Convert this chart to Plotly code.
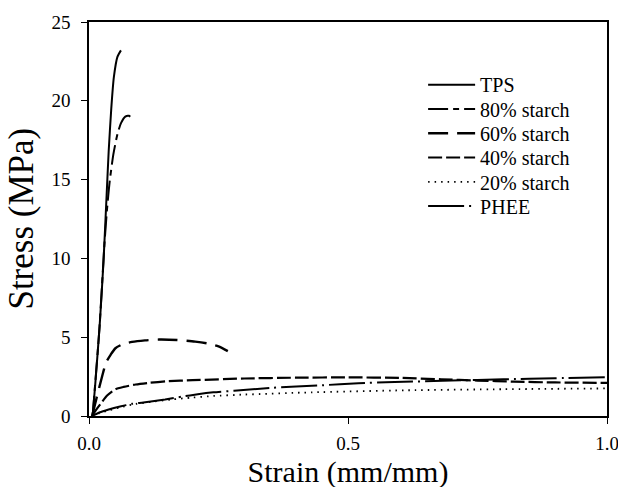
import plotly.graph_objects as go

# ---- data ----
tps_x = [0.007, 0.012, 0.0205, 0.028, 0.034, 0.038, 0.043, 0.048, 0.055, 0.0617]
tps_y = [0.0, 2.0, 5.7, 9.8, 14.0, 16.8, 19.5, 21.5, 22.8, 23.2]

s80_x = [0.007, 0.02, 0.03, 0.035, 0.04, 0.047, 0.055, 0.062, 0.07, 0.077, 0.084]
s80_y = [0.0, 5.5, 11.0, 13.2, 14.9, 16.6, 17.9, 18.6, 19.0, 19.05, 18.85]

s60_x = [0.006, 0.015, 0.026, 0.033, 0.042, 0.051, 0.065, 0.083, 0.108, 0.135, 0.17, 0.205, 0.23, 0.25, 0.268]
s60_y = [0.0, 1.2, 2.6, 3.4, 3.9, 4.3, 4.55, 4.7, 4.8, 4.85, 4.82, 4.72, 4.6, 4.42, 4.12]

s40_x = [0.006, 0.014, 0.022, 0.035, 0.051, 0.067, 0.09, 0.115, 0.15, 0.2, 0.3, 0.4, 0.5, 0.6, 0.68, 0.75, 0.82, 0.9, 1.0]
s40_y = [0.0, 0.4, 0.75, 1.3, 1.7, 1.85, 2.0, 2.1, 2.2, 2.27, 2.38, 2.43, 2.45, 2.42, 2.33, 2.25, 2.18, 2.13, 2.1]

s20_x = [0.006, 0.02, 0.04, 0.06, 0.09, 0.12, 0.16, 0.2, 0.24, 0.3, 0.43, 0.61, 0.8, 1.0]
s20_y = [0.0, 0.18, 0.37, 0.55, 0.76, 0.9, 1.05, 1.17, 1.27, 1.36, 1.5, 1.63, 1.7, 1.75]

phee_x = [0.006, 0.02, 0.038, 0.06, 0.083, 0.105, 0.147, 0.18, 0.21, 0.24, 0.28, 0.35, 0.45, 0.52, 0.59, 0.7, 0.8, 0.9, 1.0]
phee_y = [0.0, 0.22, 0.41, 0.6, 0.77, 0.86, 1.05, 1.23, 1.38, 1.5, 1.6, 1.78, 1.95, 2.08, 2.15, 2.25, 2.33, 2.4, 2.46]

names = ["TPS", "80% starch", "60% starch", "40% starch", "20% starch", "PHEE"]
xs = [tps_x, s80_x, s60_x, s40_x, s20_x, phee_x]
ys = [tps_y, s80_y, s60_y, s40_y, s20_y, phee_y]
dashes = ["solid", "20px,5px,6px,5px", "20px,9px", "14px,4px", "1.5px,5px", "36px,5px,2px,5px"]
widths = [2, 2, 2.4, 2.2, 1.8, 2]

FONT = "Liberation Serif, Times New Roman, serif"

fig = go.Figure()
legend_ids = ["legend"] + ["legend%d" % (i + 1) for i in range(1, len(names))]
for i, (n, x, y, d, w) in enumerate(zip(names, xs, ys, dashes, widths)):
    fig.add_trace(go.Scatter(x=x, y=y, mode="lines", name=n, legend=legend_ids[i],
                             line=dict(color="black", width=w, dash=d, shape="spline", smoothing=0.6)))

W, H = 631, 497
ML, MR, MT, MB = 89, 12, 20, 81
plot_w = W - ML - MR
plot_h = H - MT - MB

# one legend box per row so the row spacing matches the original
row_px = [83 + 24.4 * i for i in range(len(names))]
legend_layout = {}
for lid, py in zip(legend_ids, row_px):
    legend_layout[lid] = dict(x=0.645, y=(H - MB - py) / plot_h, xanchor="left", yanchor="middle",
                              bgcolor="rgba(0,0,0,0)", font=dict(size=20, family=FONT),
                              itemwidth=47)

fig.update_layout(
    width=W, height=H,
    margin=dict(l=ML, r=MR, t=MT, b=MB),
    paper_bgcolor="white", plot_bgcolor="white",
    font=dict(family=FONT, color="black", size=19),
    showlegend=True,
    xaxis=dict(range=[0, 1], tickvals=[0, 0.5, 1.0], ticktext=["0.0", "0.5", "1.0"],
               showgrid=False, zeroline=False, showline=True, linecolor="black", linewidth=1.5,
               mirror=True, ticks="outside", ticklen=6, tickcolor="black", tickwidth=1.2,
               tickfont=dict(size=19, family=FONT), ticklabelstandoff=3,
               title=dict(text="Strain (mm/mm)", font=dict(size=30, family=FONT), standoff=8)),
    yaxis=dict(range=[0, 25], tickvals=[0, 5, 10, 15, 20, 25],
               showgrid=False, zeroline=False, showline=True, linecolor="black", linewidth=1.5,
               mirror=True, ticks="outside", ticklen=6, tickcolor="black", tickwidth=1.2,
               tickfont=dict(size=19, family=FONT), ticklabelstandoff=7),
    annotations=[dict(text="Stress (MPa)", xref="paper", yref="paper",
                      x=(19 - ML) / plot_w, y=0.5, xanchor="center", yanchor="middle",
                      textangle=-90, showarrow=False, font=dict(size=35, family=FONT, color="black"))],
    **legend_layout,
)

fig.write_html(
    "out.html",
    config={"displayModeBar": False},
    post_script=("document.documentElement.style.margin='0';document.body.style.margin='0';"
                 "document.documentElement.style.overflow='hidden';document.body.style.overflow='hidden';"),
)
